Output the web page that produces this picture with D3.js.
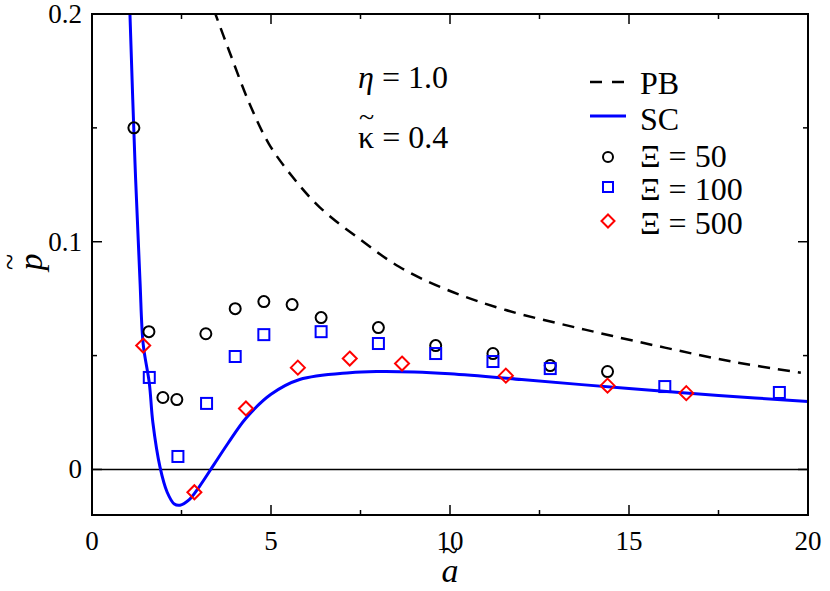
<!DOCTYPE html>
<html><head><meta charset="utf-8">
<script src="https://cdn.jsdelivr.net/npm/d3@7"></script>
<style>body{margin:0;background:#fff}</style>
</head><body><svg id="c" width="830" height="591" font-family="'Liberation Serif', 'Times New Roman', Times, 'DejaVu Serif', serif"></svg>
<script>
// PB dashed curve
var pbA = [3.4, 3.85, 4.39, 4.94, 5.6, 6.37, 7.49, 8.58, 9.9, 11.56, 13.77, 16, 18, 19.8];
var pbP = [0.202, 0.183, 0.161, 0.143, 0.1285, 0.115, 0.101, 0.089, 0.079, 0.070, 0.0614, 0.0535, 0.047, 0.0425];
// SC solid curve
var scA = [1.06, 1.2, 1.34, 1.43, 1.6, 1.7, 1.9, 2.1, 2.3, 2.46, 2.7, 3.0, 3.4, 3.8, 4.3, 5.0, 5.8, 7.2, 8.0, 9, 10, 12, 15, 17.5, 20];
var scP = [0.2, 0.135, 0.083, 0.055, 0.038, 0.0206, 0.001, -0.01, -0.0152, -0.0157, -0.0135, -0.0075, 0.002, 0.0115, 0.0225, 0.033, 0.0395, 0.0425, 0.043, 0.0428, 0.042, 0.0395, 0.0355, 0.0325, 0.0298];
// symbols
var c50A = [1.17, 1.59, 1.98, 2.37, 3.18, 4.0, 4.8, 5.59, 6.4, 8.0, 9.6, 11.2, 12.8, 14.4];
var c50P = [0.150, 0.0605, 0.0316, 0.0307, 0.0596, 0.0706, 0.0737, 0.0724, 0.0667, 0.0623, 0.0544, 0.0509, 0.0456, 0.043];
var s100A = [1.6, 2.4, 3.2, 4.0, 4.8, 6.4, 8.0, 9.6, 11.2, 12.8, 16.0, 19.2];
var s100P = [0.0404, 0.0057, 0.029, 0.0496, 0.0592, 0.0605, 0.0553, 0.0509, 0.0474, 0.0443, 0.0364, 0.0338];
var d500A = [1.43, 2.86, 4.3, 5.75, 7.2, 8.66, 11.56, 14.4, 16.6];
var d500P = [0.0544, -0.010, 0.0268, 0.0447, 0.0487, 0.0465, 0.0412, 0.0368, 0.0335];
var xTicks = [0, 5, 10, 15, 20];
var yTicks = [0, 0.1, 0.2];

var svg = d3.select('#c');
var x = d3.scaleLinear().domain([0, 20]).range([92, 808]);
var y = d3.scaleLinear().domain([-0.02, 0.2]).range([515, 14]);

svg.append('defs').append('clipPath').attr('id', 'clip').append('rect')
  .attr('x', 92).attr('y', 14).attr('width', 716).attr('height', 501);

// zero line
svg.append('line').attr('x1', x(0)).attr('x2', x(20)).attr('y1', y(0)).attr('y2', y(0))
  .attr('stroke', '#000').attr('stroke-width', 1.5);

var g = svg.append('g').attr('clip-path', 'url(#clip)');
var line = d3.line().curve(d3.curveCatmullRom.alpha(0.5));
g.append('path').attr('d', line(pbA.map(function(a, i) { return [x(a), y(pbP[i])]; })))
  .attr('fill', 'none').attr('stroke', '#000').attr('stroke-width', 2.5).attr('stroke-dasharray', '12,8');
g.append('path').attr('d', line(scA.map(function(a, i) { return [x(a), y(scP[i])]; })))
  .attr('fill', 'none').attr('stroke', '#0000ff').attr('stroke-width', 3);

// symbols
c50A.forEach(function(a, i) {
  svg.append('circle').attr('cx', x(a)).attr('cy', y(c50P[i])).attr('r', 5.5)
    .attr('fill', 'none').attr('stroke', '#000').attr('stroke-width', 2);
});
s100A.forEach(function(a, i) {
  svg.append('rect').attr('x', x(a) - 5.5).attr('y', y(s100P[i]) - 5.5).attr('width', 11).attr('height', 11)
    .attr('fill', 'none').attr('stroke', '#0000ff').attr('stroke-width', 2);
});
var diamond = function(cx, cy, s) {
  return 'M' + cx + ',' + (cy - s) + 'L' + (cx + s) + ',' + cy + 'L' + cx + ',' + (cy + s) + 'L' + (cx - s) + ',' + cy + 'Z';
};
d500A.forEach(function(a, i) {
  svg.append('path').attr('d', diamond(x(a), y(d500P[i]), 7))
    .attr('fill', 'none').attr('stroke', '#ff0000').attr('stroke-width', 2);
});

// frame
svg.append('rect').attr('x', 92).attr('y', 14).attr('width', 716).attr('height', 501)
  .attr('fill', 'none').attr('stroke', '#000').attr('stroke-width', 2);

// ticks (inside, mirrored)
var tk = svg.append('g').attr('stroke', '#000').attr('stroke-width', 1.5);
d3.range(0, 20.01, 2.5).forEach(function(v) {
  var L = (v % 5 === 0) ? 10 : 5;
  tk.append('line').attr('x1', x(v)).attr('x2', x(v)).attr('y1', 515).attr('y2', 515 - L);
  tk.append('line').attr('x1', x(v)).attr('x2', x(v)).attr('y1', 14).attr('y2', 14 + L);
});
[0, 0.05, 0.1, 0.15, 0.2].forEach(function(v) {
  var L = (Math.round(v * 100) % 10 === 0) ? 10 : 5;
  tk.append('line').attr('x1', 92).attr('x2', 92 + L).attr('y1', y(v)).attr('y2', y(v));
  tk.append('line').attr('x1', 808).attr('x2', 808 - L).attr('y1', y(v)).attr('y2', y(v));
});
xTicks.forEach(function(v) {
  svg.append('text').attr('x', x(v)).attr('y', 550).attr('text-anchor', 'middle')
    .attr('font-size', 27).text(v);
});
yTicks.forEach(function(v) {
  svg.append('text').attr('x', 82).attr('y', y(v) + 9).attr('text-anchor', 'end')
    .attr('font-size', 27).text(v === 0 ? '0' : v.toFixed(1));
});

// axis labels
svg.append('text').attr('x', 450).attr('y', 582).attr('text-anchor', 'middle')
  .attr('font-size', 34).attr('font-style', 'italic').text('a');
svg.append('text').attr('x', 450).attr('y', 561).attr('text-anchor', 'middle')
  .attr('font-size', 30).text('~');
svg.append('text').attr('transform', 'translate(42,262) rotate(-90)').attr('text-anchor', 'middle')
  .attr('font-size', 34).attr('font-style', 'italic').text('p');
svg.append('text').attr('transform', 'translate(20,262) rotate(-90)').attr('text-anchor', 'middle')
  .attr('font-size', 30).text('~');

// annotations
svg.append('text').attr('x', 358).attr('y', 88).attr('font-size', 32)
  .html('<tspan font-style="italic">\u03b7</tspan> = 1.0');
svg.append('text').attr('x', 358).attr('y', 148).attr('font-size', 32).text('\u03ba = 0.4');
svg.append('text').attr('x', 359).attr('y', 126).attr('font-size', 28).text('~');

// legend
var lg = svg.append('g');
lg.append('line').attr('x1', 590).attr('x2', 626).attr('y1', 82).attr('y2', 82)
  .attr('stroke', '#000').attr('stroke-width', 2.5).attr('stroke-dasharray', '12,10');
lg.append('line').attr('x1', 590).attr('x2', 626).attr('y1', 116).attr('y2', 116)
  .attr('stroke', '#0000ff').attr('stroke-width', 3);
lg.append('circle').attr('cx', 608).attr('cy', 157).attr('r', 5)
  .attr('fill', 'none').attr('stroke', '#000').attr('stroke-width', 2);
lg.append('rect').attr('x', 603).attr('y', 182).attr('width', 10).attr('height', 10)
  .attr('fill', 'none').attr('stroke', '#0000ff').attr('stroke-width', 2);
lg.append('path').attr('d', diamond(608, 221, 6.5))
  .attr('fill', 'none').attr('stroke', '#ff0000').attr('stroke-width', 2);
var labels = ['PB', 'SC', '\u039e = 50', '\u039e = 100', '\u039e = 500'];
var ly = [94, 130, 167, 200, 234];
labels.forEach(function(t, i) {
  lg.append('text').attr('x', 640).attr('y', ly[i]).attr('font-size', 32).text(t);
});
</script></body></html>
